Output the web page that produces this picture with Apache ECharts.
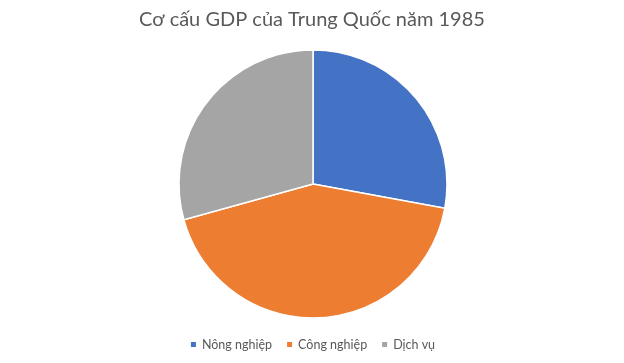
<!DOCTYPE html>
<html><head><meta charset="utf-8">
<script src="https://cdn.jsdelivr.net/npm/echarts@6/dist/echarts.min.js"></script>
<style>html,body{margin:0;padding:0;background:#fff}#c{width:624px;height:363px}</style>
</head><body><div id="c"></div>
<script>
const title = "Cơ cấu GDP của Trung Quốc năm 1985";
const categories = ["Nông nghiệp", "Công nghiệp", "Dịch vụ"];
const values = [27.9, 42.8, 29.3];
const colors = ["#4472C4", "#ED7D31", "#A5A5A5"];

const chart = echarts.init(document.getElementById('c'));
chart.setOption({
  animation: false,
  title: {
    text: title, left: 'center', top: 5,
    textStyle: {fontFamily: 'Lato', fontSize: 20, fontWeight: 'normal', color: '#595959'}
  },
  legend: {
    bottom: 7, left: 'center', itemWidth: 7, itemHeight: 7, itemGap: 13, icon: 'rect',
    textStyle: {fontFamily: 'Lato', fontSize: 12.5, color: '#595959'},
    data: categories
  },
  series: [{
    type: 'pie', center: [313, 184], radius: 134, startAngle: 90, clockwise: true,
    label: {show: false}, labelLine: {show: false},
    itemStyle: {borderColor: '#fff', borderWidth: 1.5},
    data: categories.map((c, i) => ({name: c, value: values[i], itemStyle: {color: colors[i]}}))
  }]
});
</script></body></html>
